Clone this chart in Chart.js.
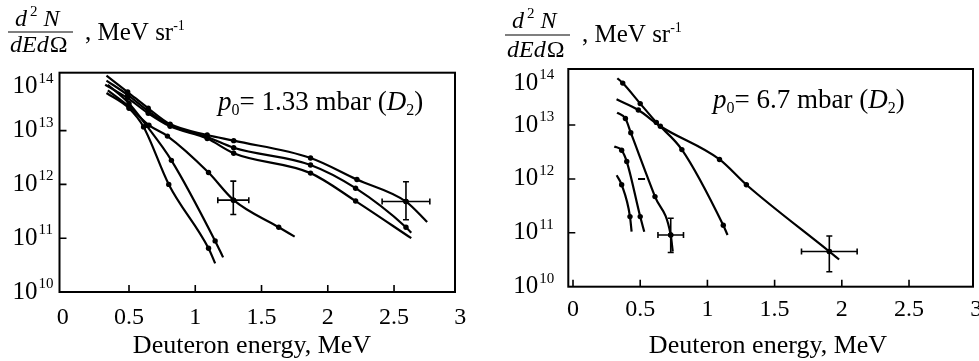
<!DOCTYPE html>
<html>
<head>
<meta charset="utf-8">
<script src="https://cdn.jsdelivr.net/npm/chart.js@4.4.0/dist/chart.umd.min.js"></script>
<style>
  body { margin: 0; background: #fff; }
  #wrap { position: relative; width: 979px; height: 361px; overflow: hidden; background: #fff; }
  canvas { position: absolute; top: 0; }
  #leftChart { left: 0; }
  #rightChart { left: 490px; }
</style>
</head>
<body>
<div id="wrap">
  <canvas id="leftChart" width="490" height="361"></canvas>
  <canvas id="rightChart" width="489" height="361"></canvas>
</div>
<script>
// Deuteron spectra, points are [energy MeV, d2N/dEdOmega]

// p0 = 1.33 mbar
const lowCurveA = [[0.33, 5.0e13], [0.5, 2.6e13], [0.61, 1.17e13], [0.80, 1.0e12], [1.10, 6.5e10], [1.15, 3.4e10]];
const lowCurveB = [[0.34, 7.1e13], [0.5, 3.2e13], [0.63, 1.26e13], [0.82, 2.8e12], [1.15, 8.9e10], [1.21, 4.4e10]];
const lowCurveC = [[0.34, 5.6e13], [0.5, 2.8e13], [0.65, 1.26e13], [0.79, 7.9e12], [1.10, 1.66e12], [1.29, 5.1e11], [1.63, 1.6e11], [1.75, 1.07e11]];
const lowCurveD = [[0.33, 1.05e14], [0.49, 5.2e13], [0.645, 2.6e13], [0.81, 1.32e13], [1.09, 8.3e12], [1.29, 6.5e12], [1.87, 3.1e12], [2.22, 1.23e12], [2.59, 4.8e11], [2.75, 2.0e11]];
const lowCurveE = [[0.33, 8.5e13], [0.49, 4.6e13], [0.645, 2.3e13], [0.81, 1.26e13], [1.09, 7.6e12], [1.29, 4.8e12], [1.87, 2.3e12], [2.21, 8.5e11], [2.59, 1.6e11], [2.63, 1.26e11]];
const lowCurveF = [[0.32, 7.1e13], [0.49, 4.0e13], [0.645, 2.1e13], [0.81, 1.2e13], [1.09, 7.1e12], [1.29, 3.8e12], [1.87, 1.62e12], [2.21, 4.9e11], [2.63, 1.0e11]];
// error crosses: [E, N, dE, N low, N high]
const lowErrors = [[1.287, 5.1e11, 0.117, 2.75e11, 1.15e12], [2.59, 4.8e11, 0.18, 2.2e11, 1.12e12]];

// p0 = 6.7 mbar
const highCurve1 = [[0.33, 7.4e13], [0.37, 6.0e13], [0.5, 2.5e13], [0.62, 1.12e13], [0.81, 3.5e12], [1.118, 1.38e11], [1.15, 9.1e10]];
const highCurve2 = [[0.324, 3.0e13], [0.486, 1.9e13], [0.65, 9.5e12], [1.09, 2.3e12], [1.29, 7.8e11], [1.907, 4.5e10], [1.98, 3.2e10]];
const highCurve3 = [[0.328, 1.7e13], [0.39, 1.32e13], [0.43, 7.2e12], [0.61, 4.7e11], [0.727, 9.1e10], [0.742, 4.5e10]];
const highCurve4 = [[0.307, 4.0e12], [0.362, 3.4e12], [0.40, 2.1e12], [0.50, 2.0e11], [0.53, 1.05e11]];
const highCurve5 = [[0.325, 1.17e12], [0.362, 7.8e11], [0.424, 2.0e11], [0.436, 1.05e11]];
const highStray = [[0.51, 1.0e12]];
const highErrors = [[0.727, 9.1e10, 0.095, 4.3e10, 1.86e11], [1.907, 4.5e10, 0.207, 1.9e10, 8.7e10]];

const energyTicks = [0, 0.5, 1, 1.5, 2, 2.5, 3];
const energyTickLabels = ['0', '0.5', '1', '1.5', '2', '2.5', '3'];
const decadeExponents = [10, 11, 12, 13, 14];

const SERIF = '"Liberation Serif", "Times New Roman", serif';

// draw a sequence of text pieces, each with its own font and vertical shift
function drawRuns(ctx, x, y, runs) {
  ctx.textAlign = 'left';
  ctx.textBaseline = 'alphabetic';
  runs.forEach(r => {
    ctx.font = r.font;
    ctx.fillText(r.t, x, y + (r.dy || 0));
    x += ctx.measureText(r.t).width + (r.gap || 0);
  });
}

function curve(points) {
  return {
    data: points.map(p => ({ x: p[0], y: p[1] })),
    borderColor: '#000',
    backgroundColor: '#000',
    borderWidth: 2.2,
    pointRadius: ctx => (ctx.dataIndex === 0 || ctx.dataIndex === points.length - 1) ? 0 : 2.7,
    pointBorderWidth: 0,
    pointBackgroundColor: '#000',
    tension: 0.4,
    cubicInterpolationMode: 'monotone',
    fill: false
  };
}

function framePlugin(cfg) {
  return {
    id: 'frame',
    afterDatasetsDraw(chart) {
      const ctx = chart.ctx;
      const a = chart.chartArea;
      const xs = chart.scales.x, ys = chart.scales.y;
      ctx.save();
      ctx.fillStyle = '#000';
      ctx.strokeStyle = '#000';

      // error crosses
      ctx.lineWidth = 1.6;
      cfg.errors.forEach(c => {
        const px = xs.getPixelForValue(c[0]), py = ys.getPixelForValue(c[1]);
        const x0 = xs.getPixelForValue(c[0] - c[2]), x1 = xs.getPixelForValue(c[0] + c[2]);
        const yLo = ys.getPixelForValue(c[3]), yHi = ys.getPixelForValue(c[4]);
        ctx.beginPath();
        ctx.moveTo(x0, py); ctx.lineTo(x1, py);
        ctx.moveTo(px, yHi); ctx.lineTo(px, yLo);
        ctx.moveTo(x0, py - 3); ctx.lineTo(x0, py + 3);
        ctx.moveTo(x1, py - 3); ctx.lineTo(x1, py + 3);
        ctx.moveTo(px - 3, yHi); ctx.lineTo(px + 3, yHi);
        ctx.moveTo(px - 3, yLo); ctx.lineTo(px + 3, yLo);
        ctx.stroke();
        ctx.beginPath();
        ctx.arc(px, py, 2.7, 0, Math.PI * 2);
        ctx.fill();
      });

      // frame
      ctx.lineWidth = 2;
      ctx.strokeRect(a.left, a.top, a.right - a.left, a.bottom - a.top);

      // inward ticks
      ctx.lineWidth = 1.6;
      ctx.beginPath();
      energyTicks.forEach(v => {
        const px = xs.getPixelForValue(v);
        if (px > a.left + 4 && px < a.right - 4) {
          ctx.moveTo(px, a.bottom); ctx.lineTo(px, a.bottom - 7);
        }
      });
      decadeExponents.forEach(k => {
        const py = ys.getPixelForValue(Math.pow(10, k));
        if (py > a.top + 6 && py < a.bottom - 4) {
          ctx.moveTo(a.left, py); ctx.lineTo(a.left + 7, py);
        }
      });
      ctx.stroke();

      // x tick labels
      ctx.font = '24px ' + SERIF;
      ctx.textAlign = 'center';
      ctx.textBaseline = 'middle';
      energyTicks.forEach((v, i) => {
        ctx.fillText(energyTickLabels[i], xs.getPixelForValue(v), a.bottom + cfg.tickGap);
      });

      // y tick labels, 10 with exponent
      decadeExponents.forEach(k => {
        let py = ys.getPixelForValue(Math.pow(10, k));
        py = Math.max(py, a.top + 14);
        ctx.font = '25px ' + SERIF;
        ctx.textAlign = 'right';
        ctx.textBaseline = 'middle';
        ctx.fillText('10', a.left - cfg.labelGap, py);
        ctx.font = '15px ' + SERIF;
        ctx.textAlign = 'left';
        ctx.fillText(String(k), a.left - cfg.labelGap + 1, py - 8);
      });

      // x title
      ctx.font = '26px ' + SERIF;
      ctx.textAlign = 'center';
      ctx.textBaseline = 'alphabetic';
      ctx.fillText('Deuteron energy, MeV', cfg.titleX, 353);

      // y title as a fraction
      const it = 'italic 24px ' + SERIF;
      const sup = '15px ' + SERIF;
      const f = cfg.fraction;
      drawRuns(ctx, f.x + 7, f.numY, [
        { t: 'd', font: it, gap: 3 },
        { t: '2', font: sup, dy: -10, gap: 6 },
        { t: 'N', font: it }
      ]);
      ctx.lineWidth = 1.2;
      ctx.beginPath();
      ctx.moveTo(f.x, f.barY); ctx.lineTo(f.x + 65, f.barY);
      ctx.stroke();
      drawRuns(ctx, f.x + 2, f.denY, [
        { t: 'dEd', font: it, gap: 1 },
        { t: '\u03A9', font: '24px ' + SERIF }
      ]);
      drawRuns(ctx, f.x + 77, f.unitY, [
        { t: ', MeV sr', font: '25px ' + SERIF },
        { t: '-1', font: '14px ' + SERIF, dy: -10 }
      ]);

      // pressure annotation
      const big = '27px ' + SERIF, bigIt = 'italic 27px ' + SERIF, sub = '16px ' + SERIF;
      drawRuns(ctx, cfg.note.x, cfg.note.y, [
        { t: 'p', font: bigIt },
        { t: '0', font: sub, dy: 5 },
        { t: '= ' + cfg.note.value + ' mbar (', font: big },
        { t: 'D', font: bigIt },
        { t: '2', font: sub, dy: 5 },
        { t: ')', font: big }
      ]);
      ctx.restore();
    }
  };
}

function makeChart(id, curves, extra, range, padding, cfg) {
  const datasets = curves.map(curve);
  extra.forEach(d => datasets.push(d));
  return new Chart(document.getElementById(id), {
    type: 'line',
    data: { datasets: datasets },
    options: {
      responsive: false,
      animation: false,
      layout: { padding: padding },
      plugins: { legend: { display: false }, tooltip: { enabled: false } },
      scales: {
        x: { type: 'linear', min: range.xMin, max: range.xMax, display: false },
        y: { type: 'logarithmic', min: 1e10, max: range.yMax, display: false }
      }
    },
    plugins: [framePlugin(cfg)]
  });
}

makeChart('leftChart',
  [lowCurveA, lowCurveB, lowCurveC, lowCurveD, lowCurveE, lowCurveF],
  [],
  { xMin: -0.0245, xMax: 2.96, yMax: Math.pow(10, 14.076) },
  { left: 59.5, right: 35, top: 72.7, bottom: 69 },
  {
    errors: lowErrors, tickGap: 26, labelGap: 22, titleX: 252,
    fraction: { x: 8, numY: 26, barY: 32, denY: 52, unitY: 40 },
    note: { x: 218, y: 110, value: '1.33' }
  });

makeChart('rightChart',
  [highCurve1, highCurve2, highCurve3, highCurve4, highCurve5],
  [{
    data: highStray.map(p => ({ x: p[0], y: p[1] })),
    showLine: false,
    pointStyle: 'line',
    pointRadius: 3.5,
    borderColor: '#000',
    pointBorderWidth: 2
  }],
  { xMin: -0.035, xMax: 2.976, yMax: Math.pow(10, 14.04) },
  { left: 78.3, right: 5.7, top: 69, bottom: 74.3 },
  {
    errors: highErrors, tickGap: 23, labelGap: 30, titleX: 278,
    fraction: { x: 15, numY: 28, barY: 35, denY: 57, unitY: 42 },
    note: { x: 223, y: 108, value: '6.7' }
  });
</script>
</body>
</html>
